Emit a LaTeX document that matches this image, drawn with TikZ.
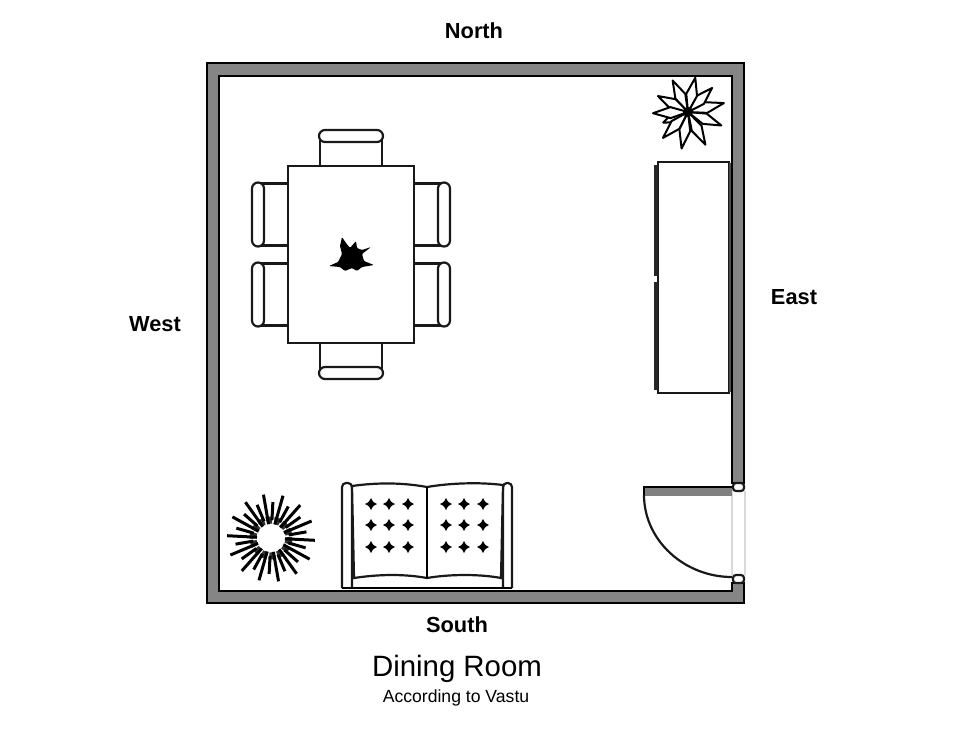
\documentclass[tikz,border=0pt]{standalone}
\usepackage{fontspec}
\setmainfont{Liberation Sans}
\def\tuft(#1,#2){\fill[shift={(#1,#2)}] (-6,0) .. controls (-2,-2) .. (0,-6) .. controls (2,-2) .. (6,0) .. controls (2,2) .. (0,6) .. controls (-2,2) .. cycle;}
\tikzset{
	wall/.style={draw=black, line width=1.2pt, fill=black!48},
	fixture/.style={draw=black!90, line width=1.1pt, fill=white},
	petal/.style={draw=black, line width=1pt, fill=white, line join=round},
	ray/.style={black, line width=1.5pt},
	compass/.style={font=\bfseries\fontsize{10.9}{12}\selectfont, inner sep=0pt}
}

\begin{document}
\begin{tikzpicture}[x=0.5pt, y=-0.5pt]
			%%%%% START %%%%%
			\useasboundingbox (0, 0) rectangle (974, 730);
			
			% walls
			\draw[wall] (207, 63) -- (744, 63) -- (744, 483) -- (732, 483) -- (732, 76) -- (219, 76) -- (219, 591) -- (732, 591) -- (732, 583) -- (744, 583) -- (744, 603) -- (207, 603) -- cycle;
			
			% door
			\draw[black!15, line width=0.8pt] (732, 491) -- (732, 575);
			\draw[black!15, line width=0.8pt] (745, 491) -- (745, 575);
			\draw[fixture, rounded corners=1.5pt] (733, 483) rectangle (744, 491);
			\draw[fixture, rounded corners=1.5pt] (733, 575) rectangle (744, 583);
			\fill[black!50] (644, 487) rectangle (732, 496);
			\draw[black, line width=1.1pt] (732, 487) -- (644, 487) -- (644, 496);
			\draw[black!90, line width=1.1pt] (644, 495) .. controls (644, 540) and (684, 577) .. (732, 577);
			
			% sideboard
			\draw[fixture] (658, 162) rectangle (729, 393);
			\draw[black!85, line width=1.8pt] (656, 165) -- (656, 276);
			\draw[black!85, line width=1.8pt] (656, 282) -- (656, 390);
			\draw[black!70, line width=1.2pt] (730, 163) -- (730, 392);
			
			% table and chairs
			\foreach \cx/\cy/\rot in {351/166/0, 288/214.5/90, 288/294.5/90, 414/214.5/-90, 414/294.5/-90, 351/343/180} {
				\begin{scope}[shift={(\cx, \cy)}, rotate=\rot]
					\draw[fixture] (-31, 0) -- (-31, -30) -- (31, -30) -- (31, 0);
					\draw[fixture, rounded corners=3pt] (-32, -36) rectangle (32, -24);
				\end{scope}
			}
			\draw[fixture] (288, 166) rectangle (414, 343);
			
			% centrepiece
			\fill[black, rounded corners=0.5pt] (329, 266) -- (338, 262) -- (342, 254) -- (340, 246) -- (342, 237) -- (346, 243) -- (350, 248) -- (356, 241) -- (357, 248) -- (362, 250) -- (371, 247) -- (362, 254) -- (364, 261) -- (374, 265) -- (362, 267) -- (357, 271) -- (352, 268) -- (345, 271) -- (340, 267) -- cycle;
			
			% plant, corner
			\foreach \a/\r in {-157/27, -134/36, 116/35, 152/34, -178/35, -100/37, -62/37, -22/36, 14/37, 45/34, 78/35} {
				\draw[petal, shift={(688, 112)}, rotate=\a] (0, 0) -- ({0.5*\r}, 5.5) -- (\r, 0) -- ({0.5*\r}, -5.5) -- cycle;
			}
			\fill[black] (688, 112) circle (2.5pt);
			
			% plant, burst
			\draw[black!80, line width=3.5pt, dash pattern=on 3pt off 1pt] (271, 538) circle (18);
			\foreach \i in {0,...,27} {
				\pgfmathsetmacro{\a}{\i*360/28+3}
				\pgfmathsetmacro{\rin}{mod(\i,2)==0 ? 14 : 18}
				\pgfmathsetmacro{\rout}{mod(\i,2)==0 ? 44 : 36}
				\draw[ray] (271, 538) ++(\a:\rin) -- ++(\a:\rout-\rin);
			}
			
			% sofa
			\draw[fixture, rounded corners=2pt] (342, 588) -- (342, 483) -- (352, 483) -- (352, 588);
			\draw[fixture, rounded corners=2pt] (503, 588) -- (503, 483) -- (512, 483) -- (512, 588);
			\draw[black, line width=1.1pt] (342, 588) -- (512, 588);
			\draw[fixture] (352, 486) .. controls (380, 482) and (405, 483) .. (427, 487) .. controls (450, 483) and (480, 482) .. (503, 485) -- (501, 578) .. controls (480, 574) and (450, 574) .. (427, 578) .. controls (405, 574) and (380, 574) .. (354, 578) -- cycle;
			\draw[black, line width=1.1pt] (427, 487) -- (427, 578);
			\foreach \ty in {504, 525, 547} {
				\foreach \tx in {371, 389, 408, 446, 464, 483} {
					\tuft(\tx,\ty)
				}
			}
			
			% labels
			\node[compass] (north) at (474, 31) {North};
			\node[compass] (west) at (155, 324) {West};
			\node[compass] (east) at (794, 297) {East};
			\node[compass] (south) at (457, 625) {South};
			\node[font=\fontsize{14.7}{17}\selectfont, inner sep=0pt] (title) at (457, 669) {Dining Room};
			\node[font=\fontsize{8.8}{10}\selectfont, inner sep=0pt] (subtitle) at (456, 698) {According to Vastu};
			
			%%%%% END %%%%%
		\end{tikzpicture}
\end{document}
